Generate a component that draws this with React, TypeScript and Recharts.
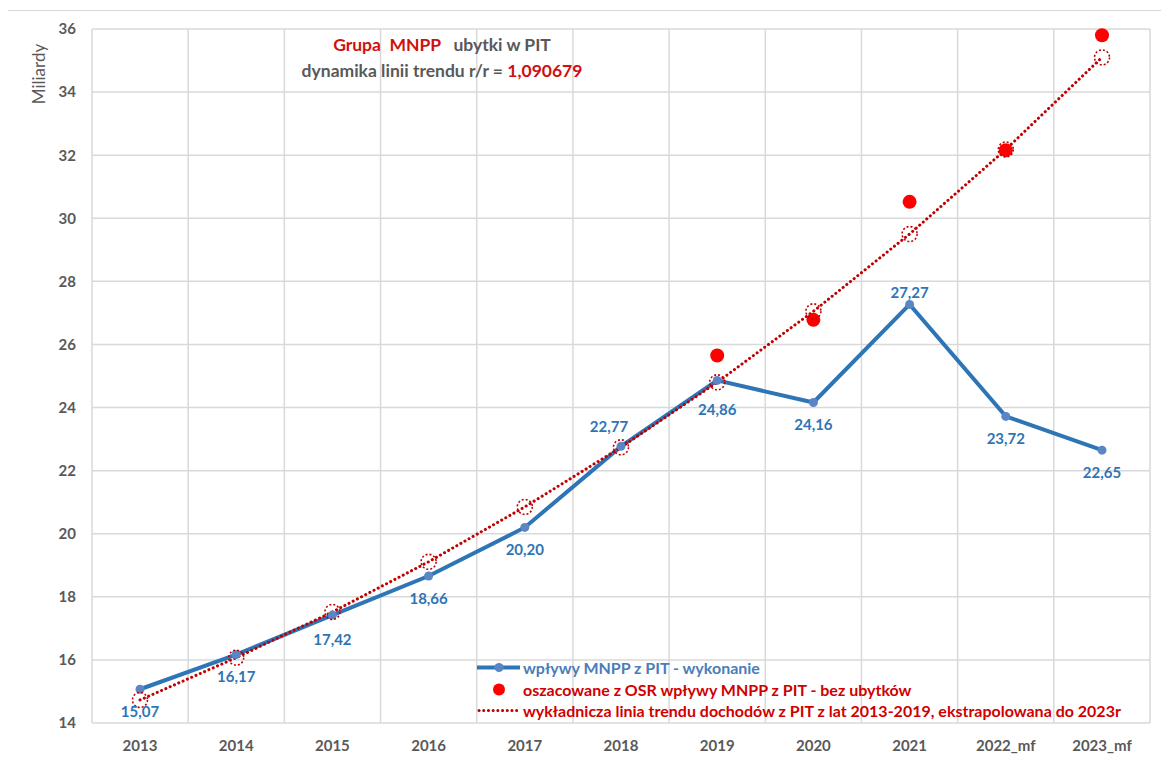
import {
  CartesianGrid,
  ComposedChart,
  LabelList,
  Line,
  XAxis,
  YAxis,
} from 'recharts';

const years = ['2013', '2014', '2015', '2016', '2017', '2018', '2019', '2020', '2021', '2022_mf', '2023_mf'];
const wykonanie = [15.07, 16.17, 17.42, 18.66, 20.2, 22.77, 24.86, 24.16, 27.27, 23.72, 22.65];
const osr = [null, null, null, null, null, null, 25.65, 26.78, 30.52, 32.16, 35.8];
const trend = [14.73, 16.07, 17.52, 19.11, 20.85, 22.74, 24.8, 27.05, 29.5, 32.18, 35.1];
const yTicks = [14, 16, 18, 20, 22, 24, 26, 28, 30, 32, 34, 36];

// label placement for the blue series, [dx, dy] from the point
const labelOffsets: [number, number][] = [
  [0, 22], [0, 21], [0, 24], [0, 22], [0, 22], [-12, -20],
  [0, 29], [0, 22], [0, -12], [0, 22], [0, 22],
];

const data = years.map((year, i) => ({
  year,
  wykonanie: wykonanie[i],
  osr: osr[i],
  trend: trend[i],
}));

const FONT = 'Lato, "Open Sans", sans-serif';
const GRAY = '#595959';
const BLUE = '#2E75B6';
const DARK_RED = '#C00000';
const RED = '#FF0000';

const fmt = (v: number) => v.toFixed(2).replace('.', ',');

function BlueLabel(props: any) {
  const { x, y, value, index } = props;
  const [dx, dy] = labelOffsets[index] || [0, 22];
  return (
    <text
      x={x + dx}
      y={y + dy}
      textAnchor='middle'
      dominantBaseline='central'
      fill={BLUE}
      fontFamily={FONT}
      fontWeight={700}
      fontSize={15}
    >
      {fmt(value)}
    </text>
  );
}

function TrendDot(props: any) {
  const { cx, cy, index } = props;
  if (cx == null || cy == null) return <g key={`t-${index}`} />;
  return (
    <circle
      key={`t-${index}`}
      cx={cx}
      cy={cy}
      r={7.5}
      fill='none'
      stroke={DARK_RED}
      strokeWidth={1.6}
      strokeDasharray='2 2'
    />
  );
}

function App() {
  return (
    <div
      style={{
        position: 'relative',
        top: 2,
        left: -1,
        width: 1162,
        height: 756,
        border: '1px solid #D9D9D9',
        background: '#fff',
        fontFamily: FONT,
      }}
    >
      <ComposedChart
        width={1162}
        height={756}
        data={data}
        margin={{ top: 18, right: 20, left: 24, bottom: 14 }}
      >
        <CartesianGrid
          stroke='#D9D9D9'
          strokeWidth={1.5}
          verticalCoordinatesGenerator={({ offset }: any) =>
            years.concat(['']).map((_, i) => offset.left + (i * offset.width) / years.length)
          }
        />
        <XAxis
          dataKey='year'
          axisLine={false}
          tickLine={false}
          tickMargin={11}
          height={30}
          padding={{ left: 48, right: 48 }}
          tick={{ fill: GRAY, fontSize: 15, fontWeight: 700, fontFamily: FONT }}
        />
        <YAxis
          domain={[14, 36]}
          ticks={yTicks}
          interval={0}
          axisLine={false}
          tickLine={false}
          tickMargin={10}
          width={60}
          tick={{ fill: GRAY, fontSize: 15, fontWeight: 700, fontFamily: FONT }}
        />
        <Line
          dataKey='wykonanie'
          stroke={BLUE}
          strokeWidth={4}
          dot={{ r: 4.5, fill: '#5A86C5', stroke: 'none' }}
          activeDot={false}
          isAnimationActive={false}
        >
          <LabelList dataKey='wykonanie' content={BlueLabel} />
        </Line>
        <Line
          dataKey='osr'
          stroke='none'
          dot={{ r: 7, fill: RED, stroke: 'none' }}
          activeDot={false}
          connectNulls={false}
          isAnimationActive={false}
        />
        <Line
          dataKey='trend'
          stroke={DARK_RED}
          strokeWidth={3}
          strokeDasharray='0.1 4.6'
          strokeLinecap='round'
          dot={TrendDot}
          activeDot={false}
          isAnimationActive={false}
        />
      </ComposedChart>

      <div
        style={{
          position: 'absolute',
          left: 29.5,
          top: 63,
          transform: 'translate(-50%, -50%) rotate(-90deg)',
          fontSize: 17,
          color: GRAY,
          whiteSpace: 'nowrap',
        }}
      >
        Miliardy
      </div>

      <div
        style={{
          position: 'absolute',
          left: 434,
          top: 21,
          transform: 'translateX(-50%)',
          textAlign: 'center',
          fontSize: 17.5,
          fontWeight: 700,
          color: GRAY,
          lineHeight: '26px',
          whiteSpace: 'pre',
        }}
      >
        <div>
          <span style={{ color: '#D01010' }}>Grupa  MNPP</span>
          {'   ubytki w PIT'}
        </div>
        <div>
          {'dynamika linii trendu r/r = '}
          <span style={{ color: '#D01010' }}>1,090679</span>
        </div>
      </div>

      <div
        style={{
          position: 'absolute',
          left: 469,
          top: 646,
          fontSize: 16,
          fontWeight: 700,
          lineHeight: '21.5px',
          whiteSpace: 'nowrap',
        }}
      >
        <div style={{ display: 'flex', alignItems: 'center' }}>
          <svg width={46} height={21}>
            <line x1={0} y1={10.5} x2={43} y2={10.5} stroke={BLUE} strokeWidth={4} />
            <circle cx={22} cy={10.5} r={4.5} fill='#5A86C5' />
          </svg>
          <span style={{ color: '#4A7DBA' }}>wpływy MNPP z PIT - wykonanie</span>
        </div>
        <div style={{ display: 'flex', alignItems: 'center' }}>
          <svg width={46} height={21}>
            <circle cx={22} cy={10.5} r={6} fill={RED} />
          </svg>
          <span style={{ color: '#D00000' }}>oszacowane z OSR wpływy MNPP z PIT - bez ubytków</span>
        </div>
        <div style={{ display: 'flex', alignItems: 'center' }}>
          <svg width={46} height={21}>
            <line
              x1={2}
              y1={10.5}
              x2={42}
              y2={10.5}
              stroke={DARK_RED}
              strokeWidth={3}
              strokeDasharray='0.1 4.6'
              strokeLinecap='round'
            />
          </svg>
          <span style={{ color: '#D00000' }}>
            wykładnicza linia trendu dochodów z PIT z lat 2013-2019, ekstrapolowana do 2023r
          </span>
        </div>
      </div>
    </div>
  );
}

export default App;
